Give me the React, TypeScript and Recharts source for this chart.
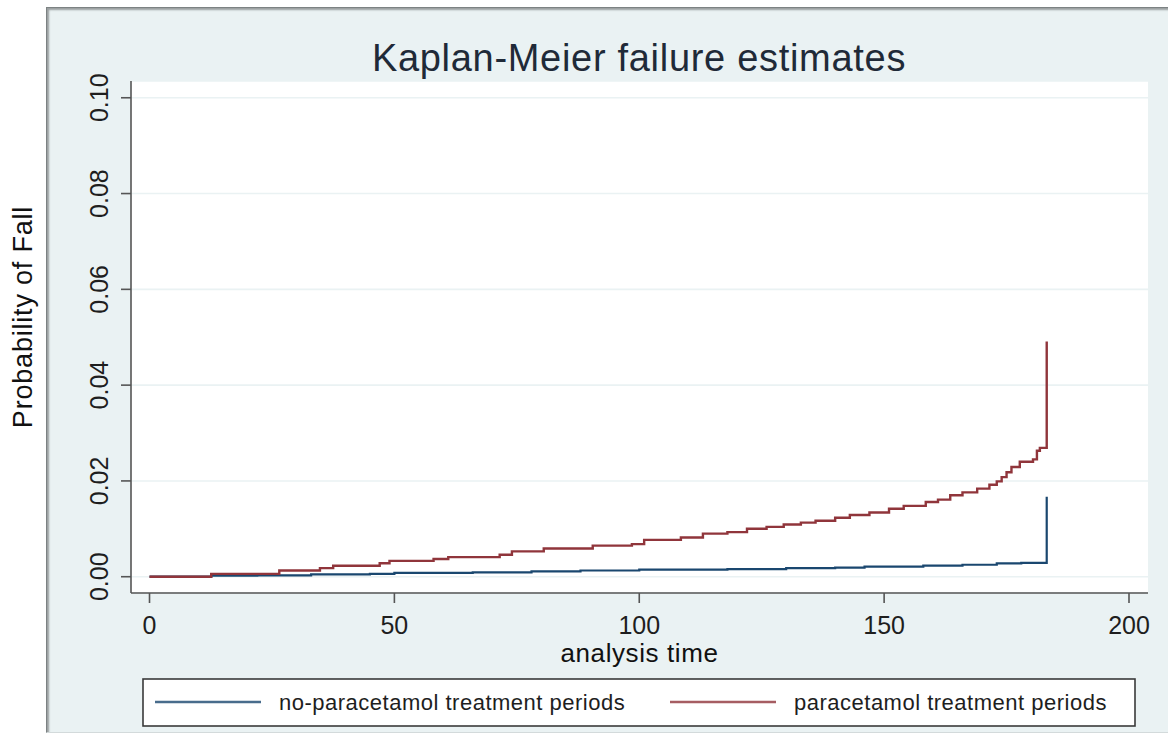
import React from 'react';
import { LineChart, Line, XAxis, YAxis, CartesianGrid, Legend } from 'recharts';

const chartTitle = 'Kaplan-Meier failure estimates';
const xAxisTitle = 'analysis time';
const yAxisTitle = 'Probability of Fall';

const xTicks = [0, 50, 100, 150, 200];
const yTicks = [0, 0.02, 0.04, 0.06, 0.08, 0.1];

const seriesNames = ['no-paracetamol treatment periods', 'paracetamol treatment periods'];

// analysis time (t) vs cumulative failure probability (f)
const noParacetamol = [
  { t: 0, f: 0 },
  { t: 12.6, f: 0.0002 },
  { t: 22, f: 0.0003 },
  { t: 33, f: 0.0005 },
  { t: 45, f: 0.0006 },
  { t: 50, f: 0.0008 },
  { t: 66, f: 0.0009 },
  { t: 78, f: 0.0011 },
  { t: 88, f: 0.0013 },
  { t: 100, f: 0.0015 },
  { t: 118, f: 0.0016 },
  { t: 130, f: 0.0018 },
  { t: 140, f: 0.0019 },
  { t: 146, f: 0.0021 },
  { t: 158, f: 0.0023 },
  { t: 166, f: 0.0025 },
  { t: 173, f: 0.0028 },
  { t: 178, f: 0.0029 },
  { t: 183.2, f: 0.0167 },
];

const paracetamol = [
  { t: 0, f: 0 },
  { t: 12.6, f: 0.0006 },
  { t: 26.5, f: 0.0013 },
  { t: 34.8, f: 0.0018 },
  { t: 37.5, f: 0.0023 },
  { t: 47, f: 0.0028 },
  { t: 49, f: 0.0033 },
  { t: 58, f: 0.0037 },
  { t: 61, f: 0.0041 },
  { t: 71.5, f: 0.0046 },
  { t: 74, f: 0.0053 },
  { t: 80.5, f: 0.0059 },
  { t: 90.5, f: 0.0065 },
  { t: 98.5, f: 0.0068 },
  { t: 101, f: 0.0077 },
  { t: 108.5, f: 0.0082 },
  { t: 113, f: 0.009 },
  { t: 118, f: 0.0093 },
  { t: 122, f: 0.01 },
  { t: 126, f: 0.0104 },
  { t: 129.5, f: 0.0109 },
  { t: 133, f: 0.0113 },
  { t: 136, f: 0.0117 },
  { t: 140, f: 0.0123 },
  { t: 143, f: 0.0129 },
  { t: 147, f: 0.0134 },
  { t: 151, f: 0.0142 },
  { t: 154, f: 0.0148 },
  { t: 158.5, f: 0.0156 },
  { t: 161, f: 0.0161 },
  { t: 163.5, f: 0.017 },
  { t: 166, f: 0.0176 },
  { t: 169, f: 0.0184 },
  { t: 171.5, f: 0.0192 },
  { t: 173, f: 0.0199 },
  { t: 174, f: 0.0208 },
  { t: 175, f: 0.0218 },
  { t: 176, f: 0.0229 },
  { t: 177.7, f: 0.024 },
  { t: 180.4, f: 0.0245 },
  { t: 181.2, f: 0.0263 },
  { t: 181.8, f: 0.0269 },
  { t: 183.2, f: 0.0491 },
];

const NAVY = '#1a476f';
const MAROON = '#90353b';
const PANEL = '#eaf2f3';
const FONT = '"Liberation Sans", Arial, Helvetica, sans-serif';

const YTick = (props: any) => {
  const { x, y, payload } = props;
  return (
    <text
      transform={`translate(${x},${y}) rotate(-90)`}
      textAnchor="middle"
      fontSize={25}
      fill="#1e1e1e"
      fontFamily={FONT}
    >
      {Number(payload.value).toFixed(2)}
    </text>
  );
};

const XTick = (props: any) => {
  const { x, y, payload } = props;
  return (
    <text x={x} y={y + 31} textAnchor="middle" fontSize={25} fill="#1e1e1e" fontFamily={FONT}>
      {payload.value}
    </text>
  );
};

const XTitle = (props: any) => {
  const vb = props.viewBox || { x: 131, y: 593, width: 1017, height: 40 };
  return (
    <text
      x={vb.x + vb.width / 2}
      y={vb.y + 69}
      textAnchor="middle"
      fontSize={26}
      fill="#111"
      fontFamily={FONT}
      style={{ letterSpacing: '0.6px' }}
    >
      {xAxisTitle}
    </text>
  );
};

const YTitle = (props: any) => {
  const vb = props.viewBox || { x: 0, y: 81, width: 131, height: 512 };
  const cy = vb.y + vb.height / 2 - 20;
  return (
    <text
      transform={`translate(32,${cy}) rotate(-90)`}
      textAnchor="middle"
      fontSize={27}
      fill="#111"
      fontFamily={FONT}
      style={{ letterSpacing: '0.8px' }}
    >
      {yAxisTitle}
    </text>
  );
};

const renderLegend = (props: any) => {
  const payload = props.payload || [];
  const items = payload.length
    ? payload
    : [
        { value: seriesNames[0], color: NAVY },
        { value: seriesNames[1], color: MAROON },
      ];
  const lineStarts = [13, 528];
  return (
    <svg width={994} height={49} style={{ display: 'block' }}>
      <rect x={1} y={1} width={992} height={47} fill="#ffffff" stroke="#3a3a3a" strokeWidth={1.6} />
      {items.map((it: any, i: number) => (
        <g key={i}>
          <line
            x1={lineStarts[i]}
            x2={lineStarts[i] + 106}
            y1={24}
            y2={24}
            stroke={it.color}
            strokeWidth={2.4}
            strokeOpacity={0.8}
          />
          <text
            x={lineStarts[i] + 124}
            y={32}
            fontSize={22}
            fill="#1e1e1e"
            fontFamily={FONT}
            style={{ letterSpacing: '0.5px' }}
          >
            {it.value}
          </text>
        </g>
      ))}
    </svg>
  );
};

export default function App() {
  return (
    <div style={{ position: 'absolute', left: 0, top: 0, width: 1168, height: 737, background: '#ffffff' }}>
      <div
        style={{
          position: 'absolute',
          left: 46,
          top: 7,
          width: 1122,
          height: 726,
          background: PANEL,
          borderTop: '1px solid #7c8283',
          borderLeft: '1px solid #7c8283',
          borderBottom: '1px solid #d3dadb',
          boxShadow: 'inset 2px 2px 2px rgba(0,0,0,0.35)',
          boxSizing: 'border-box',
        }}
      />
      <div style={{ position: 'absolute', left: 0, top: 0 }}>
        <LineChart width={1168} height={737} margin={{ top: 81, right: 20, bottom: 104, left: 0 }}>
          <CartesianGrid
            horizontal={true}
            vertical={false}
            stroke={PANEL}
            strokeWidth={1.6}
            fill="#ffffff"
            fillOpacity={1}
          />
          <XAxis
            type="number"
            dataKey="t"
            domain={[-3.78, 203.88]}
            ticks={xTicks}
            allowDataOverflow
            height={40}
            tickSize={10}
            tickMargin={0}
            tick={<XTick />}
            axisLine={{ stroke: '#555', strokeWidth: 1.6 }}
            tickLine={{ stroke: '#555', strokeWidth: 1.6 }}
            label={<XTitle />}
          />
          <YAxis
            type="number"
            domain={[-0.0034, 0.1035]}
            ticks={yTicks}
            allowDataOverflow
            width={131}
            tickSize={10}
            tickMargin={13}
            tick={<YTick />}
            axisLine={{ stroke: '#555', strokeWidth: 1.6 }}
            tickLine={{ stroke: '#555', strokeWidth: 1.6 }}
            label={<YTitle />}
          />
          <Legend
            content={renderLegend}
            layout="horizontal"
            verticalAlign="middle"
            align="center"
            wrapperStyle={{ left: 142, top: 678, width: 994, height: 49 }}
          />
          <Line
            data={noParacetamol}
            dataKey="f"
            name={seriesNames[0]}
            type="stepAfter"
            stroke={NAVY}
            strokeWidth={2.2}
            dot={false}
            activeDot={false}
            isAnimationActive={false}
          />
          <Line
            data={paracetamol}
            dataKey="f"
            name={seriesNames[1]}
            type="stepAfter"
            stroke={MAROON}
            strokeWidth={2.4}
            dot={false}
            activeDot={false}
            isAnimationActive={false}
          />
          <text
            x={639}
            y={71}
            textAnchor="middle"
            fontSize={38}
            fill="#1f2a38"
            fontFamily={FONT}
            style={{ letterSpacing: '0.7px' }}
          >
            {chartTitle}
          </text>
        </LineChart>
      </div>
    </div>
  );
}
